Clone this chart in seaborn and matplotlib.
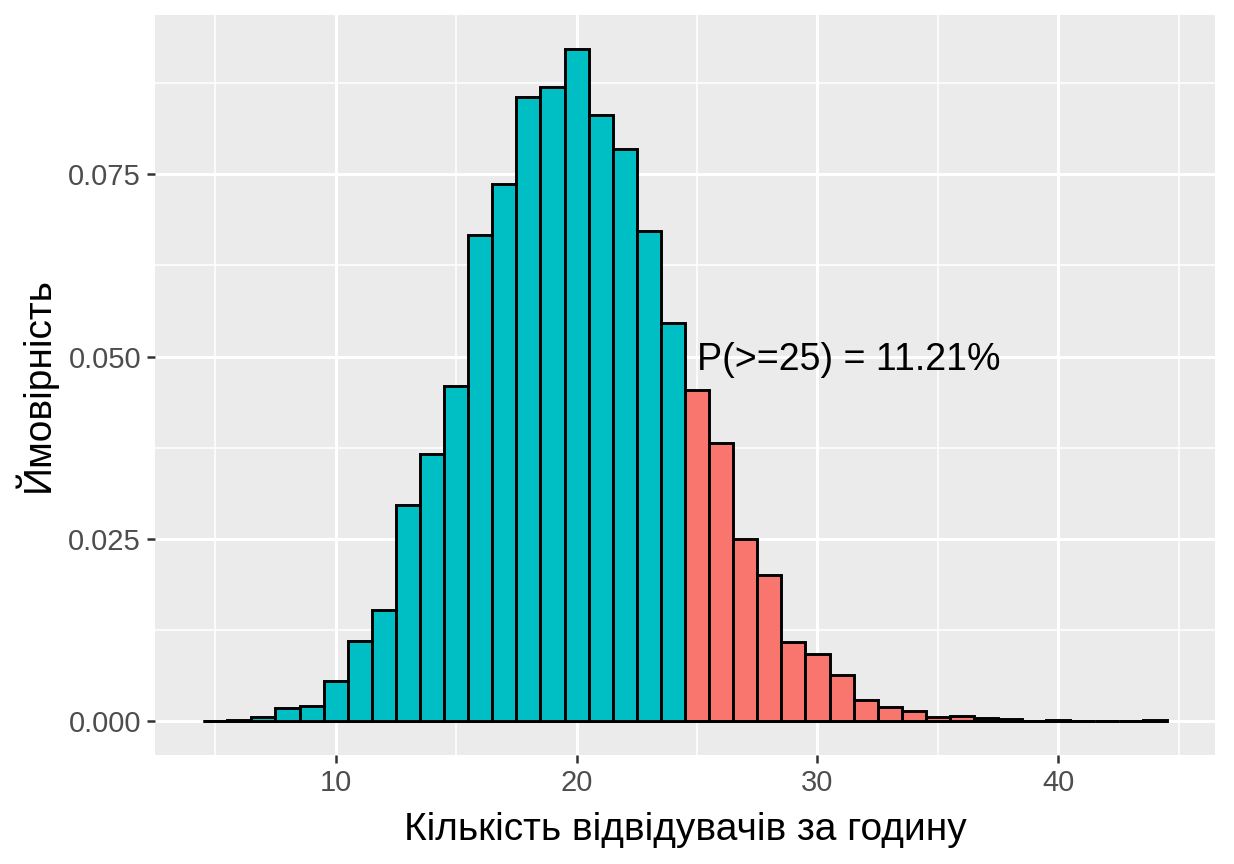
import numpy as np
import pandas as pd
import seaborn as sns
import matplotlib.pyplot as plt
from matplotlib.ticker import FormatStrFormatter, MultipleLocator

# Visitors per hour and their probabilities
visitors = list(range(5, 45))
probs = [0.0001, 0.0002, 0.0006, 0.0018, 0.0021, 0.0056, 0.0110, 0.0152, 0.0296, 0.0367,
         0.0459, 0.0667, 0.0737, 0.0856, 0.0870, 0.0922, 0.0831, 0.0784, 0.0672, 0.0546,
         0.0454, 0.0381, 0.0250, 0.0201, 0.0109, 0.0092, 0.0063, 0.0030, 0.0020, 0.0014,
         0.0006, 0.0007, 0.0004, 0.0003, 0.0001, 0.0002, 0.0001, 0.0001, 0.0001, 0.0002]
threshold = 25
label_text = "P(>=25) = 11.21%"

data = pd.DataFrame({"visitors": visitors, "prob": probs})
data["tail"] = np.where(data["visitors"] >= threshold, "yes", "no")

sns.set_theme(style="darkgrid")
plt.rcParams["font.family"] = ["Liberation Sans", "DejaVu Sans"]

fig = plt.figure(figsize=(12.34, 8.64), dpi=100)
ax = fig.add_axes([0.1256, 0.1262, 0.8590, 0.8564])
ax.set_facecolor("#EBEBEB")

sns.histplot(data=data, x="visitors", weights="prob", hue="tail", discrete=True,
             palette={"no": "#00BFC4", "yes": "#F8766D"}, multiple="layer", alpha=1,
             edgecolor="black", linewidth=2.1, legend=False, ax=ax, zorder=3)

ax.text(threshold, 0.0495, label_text, ha="left", va="center", fontsize=27, color="black", zorder=4)

ax.set_xlim(2.5, 46.5)
ax.set_ylim(-0.0046, 0.0968)
ax.xaxis.set_major_locator(MultipleLocator(10))
ax.xaxis.set_minor_locator(MultipleLocator(5))
ax.yaxis.set_major_locator(MultipleLocator(0.025))
ax.yaxis.set_minor_locator(MultipleLocator(0.0125))
ax.yaxis.set_major_formatter(FormatStrFormatter("%.3f"))
ax.grid(which="major", color="white", linewidth=2.2)
ax.grid(which="minor", color="white", linewidth=1.1)
ax.set_axisbelow(True)
for s in ax.spines.values():
    s.set_visible(False)

ax.tick_params(which="major", length=6, width=1.8, color="#333333", labelsize=21,
               labelcolor="#4D4D4D", pad=4, bottom=True, left=True)
ax.tick_params(which="minor", length=0)

ax.set_xlabel("Кількість відвідувачів за годину", fontsize=28, color="black", labelpad=11)
ax.set_ylabel("Ймовірність", fontsize=28, color="black", labelpad=8)

fig.savefig("out.png", dpi=100, facecolor="white")
